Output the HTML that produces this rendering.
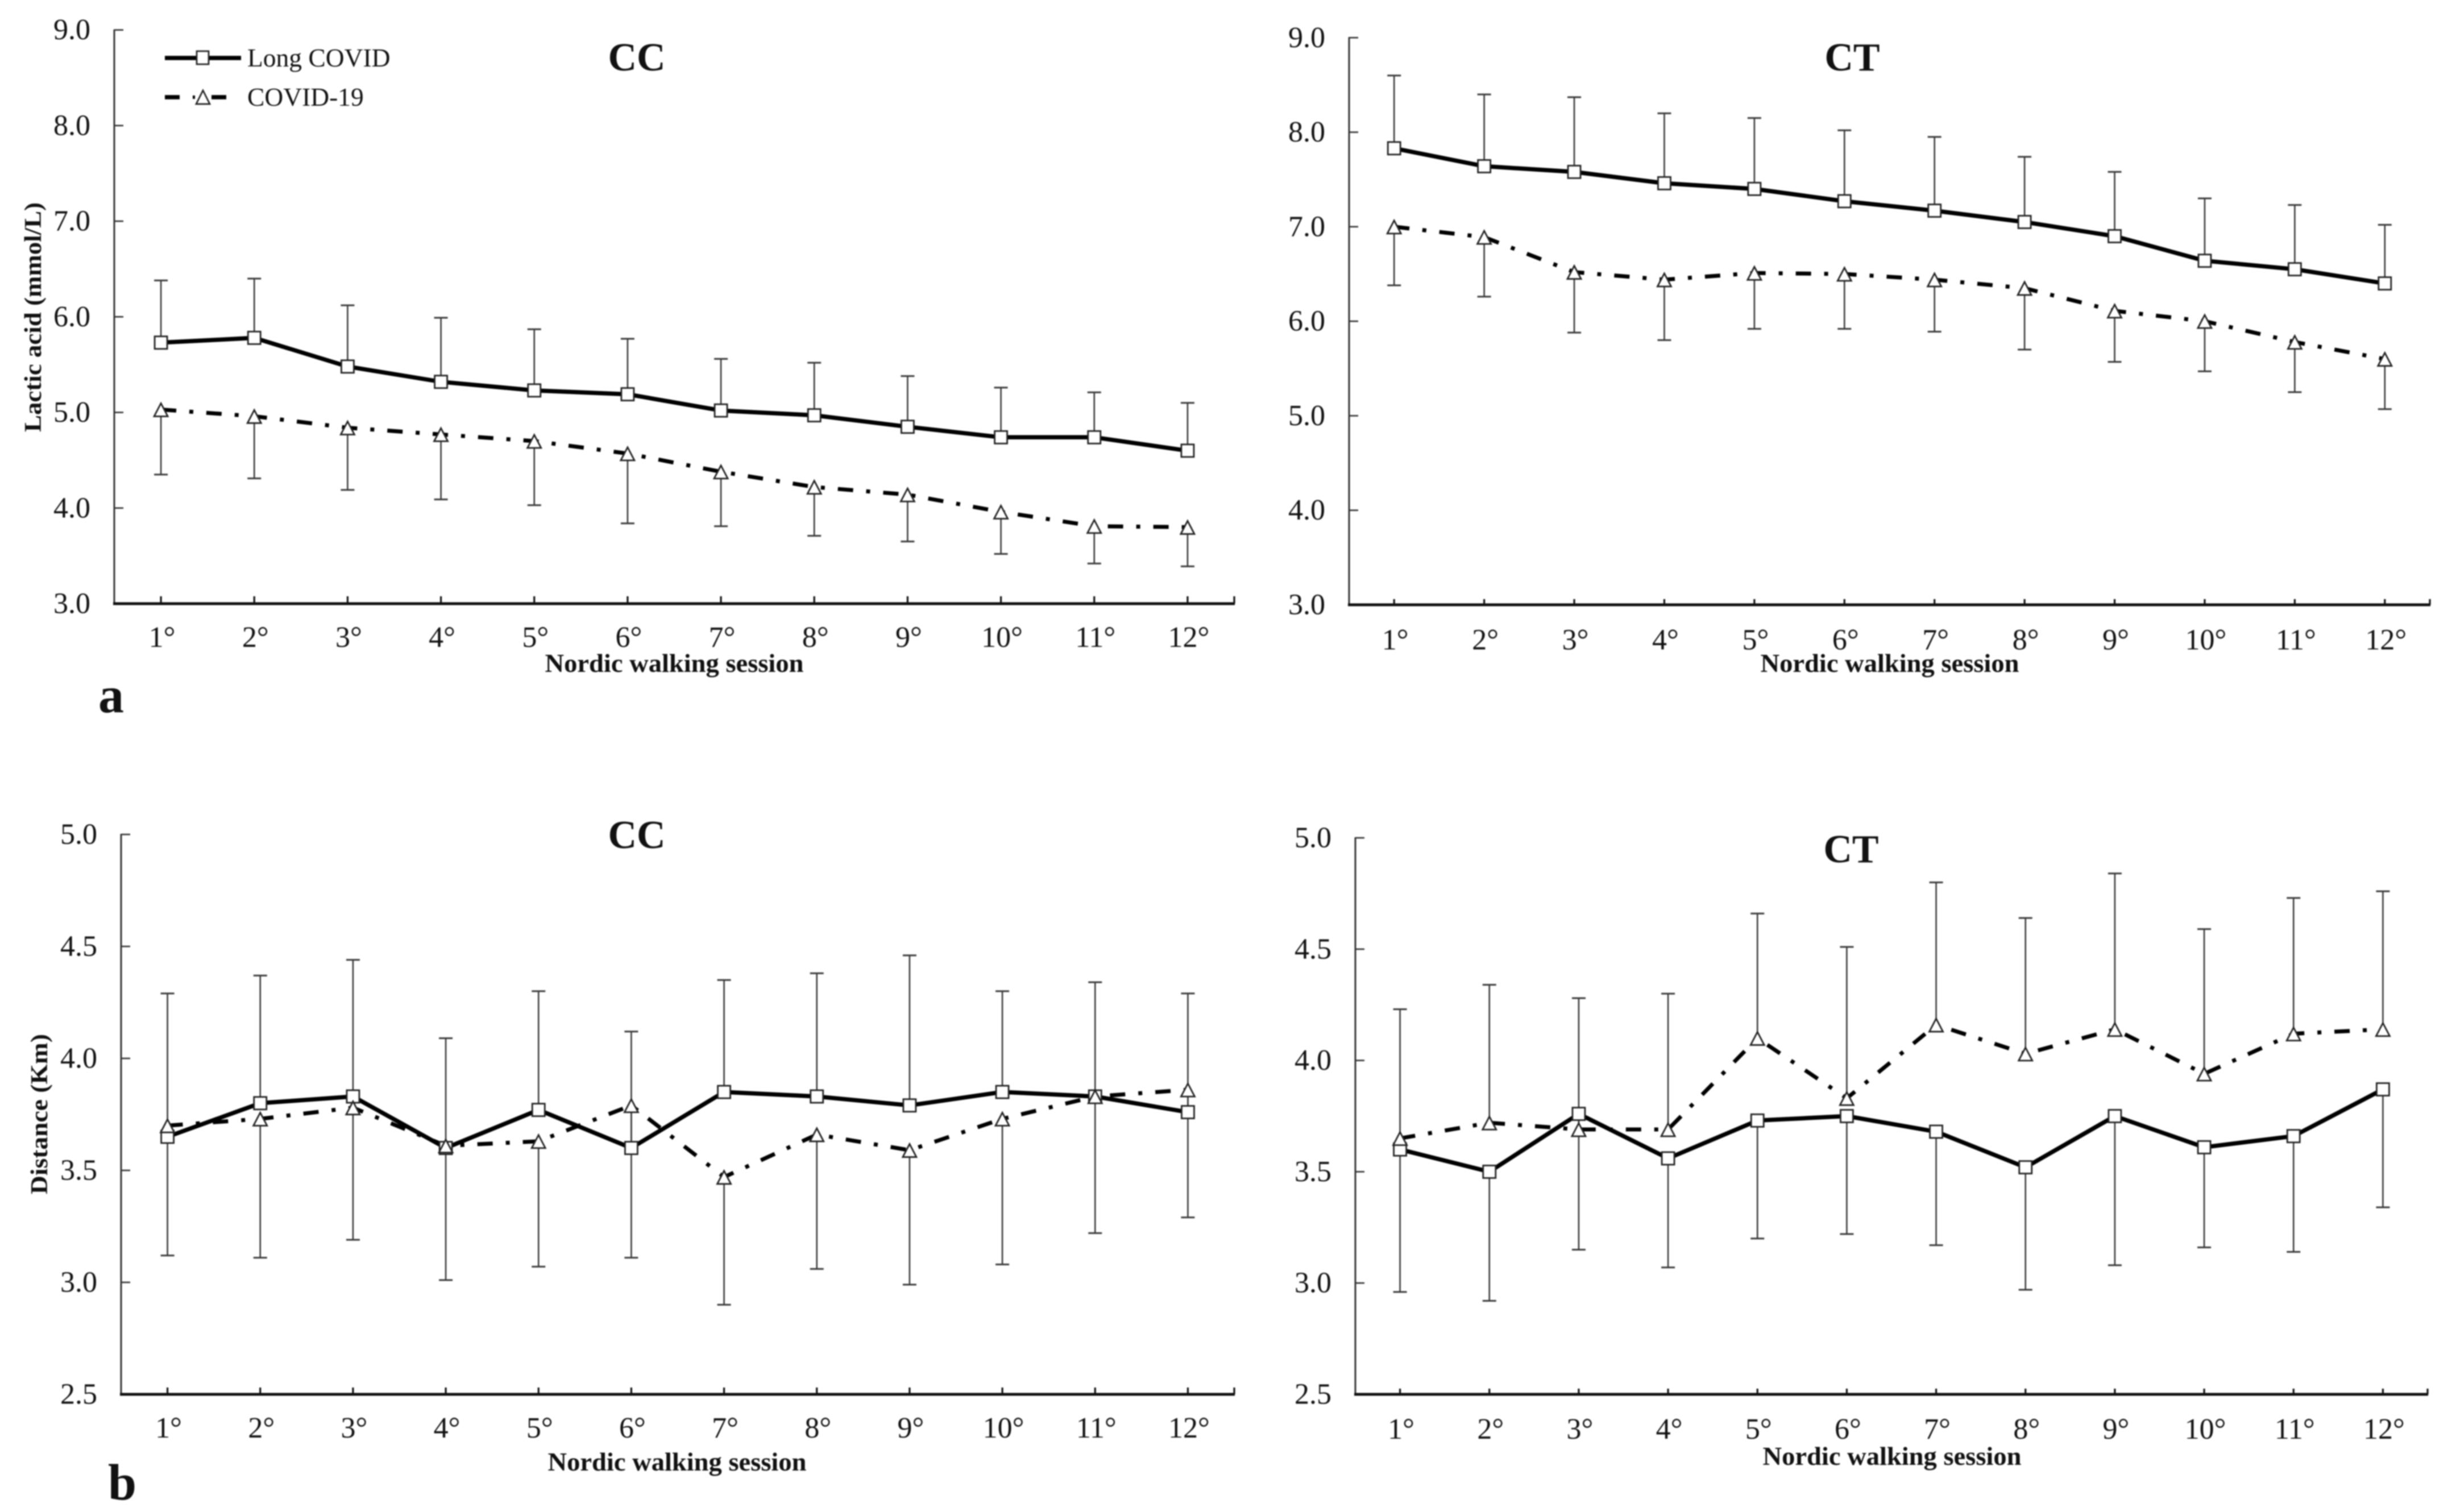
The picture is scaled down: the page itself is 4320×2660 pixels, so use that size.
<!DOCTYPE html>
<html lang="en">
<head>
<meta charset="utf-8">
<title>Lactic acid and distance across Nordic walking sessions</title>
<style>
html,body{margin:0;padding:0;background:#fff;}
svg{display:block;filter:blur(1px);font-family:"Liberation Serif",serif;}
text{fill:#111;}
</style>
</head>
<body>
<svg id="fig" xmlns="http://www.w3.org/2000/svg" width="4320" height="2660" viewBox="0 0 4320 2660">
<rect x="0" y="0" width="4320" height="2660" fill="#fff"/>

<g id="panel-a-cc"></g>
<g id="panel-a-ct"></g>
<g id="panel-b-cc"></g>
<g id="panel-b-ct"></g>

<text x="1120" y="124" text-anchor="middle" font-size="70" font-weight="700">CC</text>
<text x="3258" y="124" text-anchor="middle" font-size="70" font-weight="700">CT</text>
<text x="1120" y="1492" text-anchor="middle" font-size="70" font-weight="700">CC</text>
<text x="3256" y="1517" text-anchor="middle" font-size="70" font-weight="700">CT</text>

<text x="1186" y="1182" text-anchor="middle" font-size="46" font-weight="700" textLength="455" lengthAdjust="spacingAndGlyphs">Nordic walking session</text>
<text x="3324" y="1182" text-anchor="middle" font-size="46" font-weight="700" textLength="455" lengthAdjust="spacingAndGlyphs">Nordic walking session</text>
<text x="1191" y="2587" text-anchor="middle" font-size="46" font-weight="700" textLength="455" lengthAdjust="spacingAndGlyphs">Nordic walking session</text>
<text x="3328" y="2577" text-anchor="middle" font-size="46" font-weight="700" textLength="455" lengthAdjust="spacingAndGlyphs">Nordic walking session</text>

<text transform="translate(72 558) rotate(-90)" text-anchor="middle" font-size="42" font-weight="700" textLength="404" lengthAdjust="spacingAndGlyphs">Lactic acid (mmol/L)</text>
<text transform="translate(83 1960) rotate(-90)" text-anchor="middle" font-size="42" font-weight="700" textLength="282" lengthAdjust="spacingAndGlyphs">Distance (Km)</text>

<text x="173" y="1253" font-size="90" font-weight="700">a</text>
<text x="190" y="2638" font-size="90" font-weight="700">b</text>

<g>
  <g>
    <line x1="290" y1="102" x2="424" y2="102" stroke="#000" stroke-width="7.5"/>
    <rect x="346" y="90" width="21" height="23" fill="#fff" stroke="#222" stroke-width="2.7"/>
    <text x="435" y="117" font-size="45.5">Long COVID</text>
  </g>
  <g>
    <line x1="290" y1="171" x2="316" y2="171" stroke="#000" stroke-width="7.5"/>
    <line x1="339" y1="171" x2="343" y2="171" stroke="#000" stroke-width="6"/>
    <line x1="372" y1="171" x2="398" y2="171" stroke="#000" stroke-width="7.5"/>
    <polygon points="345,183 369,183 357,159" fill="#fff" stroke="#222" stroke-width="2.7"/>
    <text x="435" y="186" font-size="45.5">COVID-19</text>
  </g>
</g>
</svg>

<script>
// Categories and tick labels
const sessionLabels = ["1°","2°","3°","4°","5°","6°","7°","8°","9°","10°","11°","12°"];
const lacticTicks = ["3.0","4.0","5.0","6.0","7.0","8.0","9.0"];
const distanceTicks = ["2.5","3.0","3.5","4.0","4.5","5.0"];

// Panel a, CC
const aCcLong = [5.73,5.78,5.48,5.32,5.23,5.19,5.02,4.97,4.85,4.74,4.74,4.60];
const aCcLongErr = [6.38,6.40,6.12,5.99,5.87,5.77,5.56,5.52,5.38,5.26,5.21,5.10];
const aCcCovid = [5.03,4.96,4.84,4.77,4.70,4.57,4.38,4.22,4.14,3.96,3.81,3.80];
const aCcCovidErr = [4.35,4.31,4.19,4.09,4.03,3.84,3.81,3.71,3.65,3.52,3.42,3.39];

// Panel a, CT
const aCtLong = [7.83,7.64,7.58,7.46,7.40,7.27,7.17,7.05,6.90,6.64,6.55,6.40];
const aCtLongErr = [8.60,8.40,8.37,8.20,8.15,8.02,7.95,7.74,7.58,7.30,7.23,7.02];
const aCtCovid = [7.00,6.89,6.52,6.44,6.51,6.50,6.44,6.35,6.11,6.00,5.78,5.60];
const aCtCovidErr = [6.38,6.26,5.88,5.80,5.92,5.92,5.89,5.70,5.57,5.47,5.25,5.07];

// Panel b, CC
const bCcLong = [3.65,3.80,3.83,3.60,3.77,3.60,3.85,3.83,3.79,3.85,3.83,3.76];
const bCcLongErr = [4.29,4.37,4.44,4.09,4.30,4.12,4.35,4.38,4.46,4.30,4.34,4.29];
const bCcCovid = [3.70,3.73,3.78,3.61,3.63,3.79,3.47,3.66,3.59,3.73,3.83,3.86];
const bCcCovidErr = [3.12,3.11,3.19,3.01,3.07,3.11,2.90,3.06,2.99,3.08,3.22,3.29];

// Panel b, CT
const bCtLong = [3.60,3.50,3.76,3.56,3.73,3.75,3.68,3.52,3.75,3.61,3.66,3.87];
const bCtLongErr = [2.96,2.92,3.15,3.07,3.20,3.22,3.17,2.97,3.08,3.16,3.14,3.34];
const bCtCovid = [3.65,3.72,3.69,3.69,4.10,3.83,4.16,4.03,4.14,3.94,4.12,4.14];
const bCtCovidErr = [4.23,4.34,4.28,4.30,4.66,4.51,4.80,4.64,4.84,4.59,4.73,4.76];

const NS = "http://www.w3.org/2000/svg";

function mk(parent, tag, attrs) {
  const el = document.createElementNS(NS, tag);
  for (const k in attrs) el.setAttribute(k, attrs[k]);
  parent.appendChild(el);
  return el;
}

function drawPanel(id, frame, ticks, longVals, longErr, covidVals, covidErr) {
  const root = document.getElementById(id);
  const vMin = parseFloat(ticks[0]);
  const vMax = parseFloat(ticks[ticks.length - 1]);
  const xAt = i => frame.left + (frame.right - frame.left) * (i + 0.5) / sessionLabels.length;
  const yAt = v => frame.bottom - (v - vMin) / (vMax - vMin) * (frame.bottom - frame.top);

  // Y axis
  const yAxis = mk(root, "line", {x1: frame.left, y1: frame.top - 1, x2: frame.left, y2: frame.bottom, stroke: "#333", "stroke-width": 3});
  
  
  ticks.forEach(t => {
    const v = parseFloat(t);
    const tick = mk(root, "line", {x1: frame.left, y1: yAt(v), x2: frame.left + 16, y2: yAt(v), stroke: "#333", "stroke-width": 2.6});
    
    
    const label = mk(root, "text", {x: frame.left - 42, y: yAt(v) + 16.5, "text-anchor": "end", "font-size": 52, fill: "#222"});
    label.textContent = t;
    
    
  });

  // X axis
  const xAxis = mk(root, "line", {x1: frame.left - 2, y1: frame.bottom, x2: frame.right + 1, y2: frame.bottom, stroke: "#111", "stroke-width": 5});
  
  
  const endTick = mk(root, "line", {x1: frame.right, y1: frame.bottom, x2: frame.right, y2: frame.bottom - frame.tickLen, stroke: "#111", "stroke-width": 3.2});
  
  
  sessionLabels.forEach((s, i) => {
    const tick = mk(root, "line", {x1: xAt(i), y1: frame.bottom, x2: xAt(i), y2: frame.bottom - frame.tickLen, stroke: "#111", "stroke-width": 3.2});
    
    
    const label = mk(root, "text", {x: xAt(i) + 2, y: frame.bottom + frame.labelGap, "text-anchor": "middle", "font-size": 52, fill: "#222"});
    label.textContent = s;
    
    
  });

  // Error bars
  function errorBars(vals, errs, name) {
    vals.forEach((v, i) => {
      const stem = mk(root, "line", {x1: xAt(i), y1: yAt(v), x2: xAt(i), y2: yAt(errs[i]), stroke: "#3a3a3a", "stroke-width": 2.6});
      
      
      const cap = mk(root, "line", {x1: xAt(i) - 12, y1: yAt(errs[i]), x2: xAt(i) + 12, y2: yAt(errs[i]), stroke: "#3a3a3a", "stroke-width": 3});
      
      
    });
  }
  errorBars(longVals, longErr, "long-covid");
  errorBars(covidVals, covidErr, "covid-19");

  const pointsOf = vals => vals.map((v, i) => xAt(i).toFixed(1) + "," + yAt(v).toFixed(1)).join(" ");

  // COVID-19 series
  const covidLine = mk(root, "polyline", {points: pointsOf(covidVals), fill: "none", stroke: "#000", "stroke-width": 7, "stroke-dasharray": "27 23 7 23"});
  
  

  // Long COVID series
  const longLine = mk(root, "polyline", {points: pointsOf(longVals), fill: "none", stroke: "#000", "stroke-width": 7.5, "stroke-linejoin": "round"});
  
  

  longVals.forEach((v, i) => {
    const sq = mk(root, "rect", {x: xAt(i) - 11, y: yAt(v) - 11, width: 22, height: 22, fill: "#fff", stroke: "#222", "stroke-width": 2.8});
    
    
  });
  covidVals.forEach((v, i) => {
    const cx = xAt(i), cy = yAt(v);
    const tri = mk(root, "polygon", {points: (cx - 12) + "," + (cy + 12) + " " + (cx + 12) + "," + (cy + 12) + " " + cx + "," + (cy - 11), fill: "#fff", stroke: "#222", "stroke-width": 2.8});
    
    
  });
}

drawPanel("panel-a-cc", {left: 201, right: 2171, top: 52.7, bottom: 1062, tickLen: 13, labelGap: 76}, lacticTicks, aCcLong, aCcLongErr, aCcCovid, aCcCovidErr);
drawPanel("panel-a-ct", {left: 2373, right: 4274, top: 66.3, bottom: 1064, tickLen: 10, labelGap: 78.5}, lacticTicks, aCtLong, aCtLongErr, aCtCovid, aCtCovidErr);
drawPanel("panel-b-cc", {left: 213, right: 2171, top: 1468, bottom: 2453, tickLen: 12, labelGap: 76}, distanceTicks, bCcLong, bCcLongErr, bCcCovid, bCcCovidErr);
drawPanel("panel-b-ct", {left: 2384, right: 4270, top: 1474, bottom: 2453, tickLen: 10, labelGap: 78}, distanceTicks, bCtLong, bCtLongErr, bCtCovid, bCtCovidErr);
</script>
</body>
</html>
